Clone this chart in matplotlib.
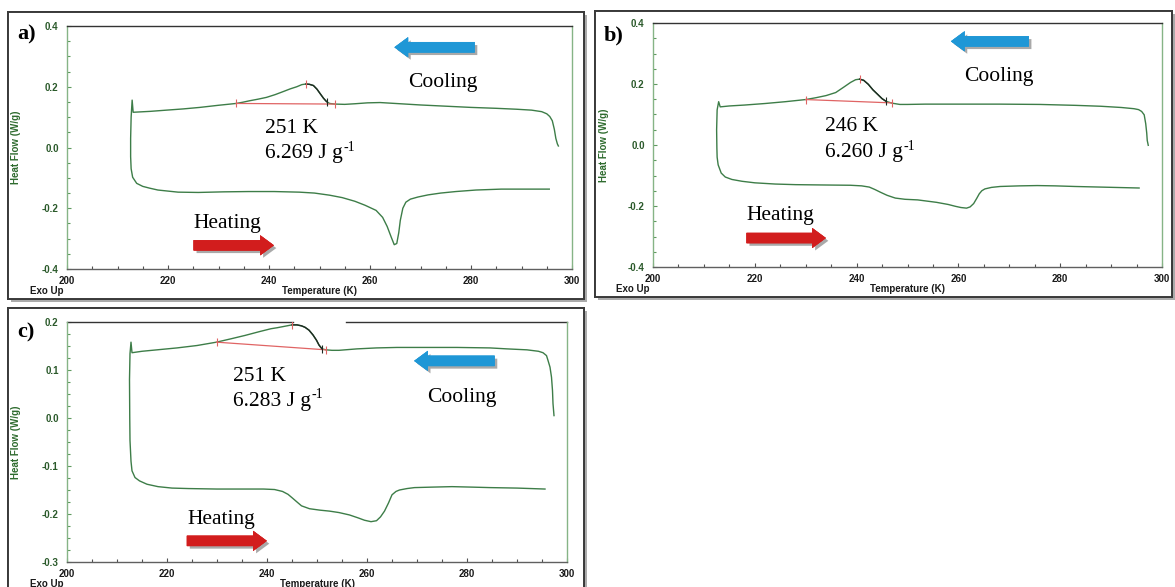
import numpy as np
import matplotlib
matplotlib.use('Agg')
import matplotlib.pyplot as plt
from matplotlib.patches import Rectangle
import matplotlib.patheffects as pe
from matplotlib.ticker import MultipleLocator, FuncFormatter

plt.rcParams['axes.unicode_minus'] = False

# ---------------- data ----------------
# Panel a
a_cool_T = [297.3, 297.1, 296.8, 296.5, 296.1, 295.6, 295.0, 294.0, 292.0, 289.0, 285.0, 280.0,
            275.0, 270.0, 266.0, 262.0, 259.5, 257.0, 255.0, 253.0, 252.0, 251.4, 250.8, 250.1,
            249.5, 248.8, 248.0, 247.3, 246.5, 245.5, 244.2, 242.8, 241.2, 239.5, 237.8, 236.2,
            234.8, 233.5, 230.0, 226.3, 223.0, 219.7, 216.5, 213.1, 212.9, 212.7, 212.6]
a_cool_HF = [0.005, 0.012, 0.030, 0.060, 0.088, 0.102, 0.111, 0.118, 0.123, 0.126, 0.129, 0.132,
             0.136, 0.140, 0.144, 0.148, 0.147, 0.144, 0.142, 0.143, 0.145, 0.151, 0.162, 0.178,
             0.192, 0.204, 0.208, 0.209, 0.207, 0.200, 0.193, 0.184, 0.174, 0.165, 0.159, 0.154,
             0.149, 0.145, 0.139, 0.132, 0.127, 0.123, 0.119, 0.116, 0.156, 0.100, 0.030]
a_heat_T = [212.6, 212.7, 213.0, 213.8, 215.0, 216.4, 218.0, 219.7, 222.0, 226.0, 231.0, 236.0,
            241.0, 246.0, 249.0, 252.0, 254.5, 257.0, 259.0, 261.2, 262.5, 263.4, 264.2, 264.8,
            265.3, 265.7, 266.0, 266.5, 267.1, 268.0, 269.5, 271.5, 274.0, 277.0, 281.0, 286.0,
            291.0, 295.5]
a_heat_HF = [-0.030, -0.070, -0.098, -0.118, -0.128, -0.134, -0.140, -0.143, -0.147, -0.148,
             -0.146, -0.145, -0.145, -0.147, -0.150, -0.157, -0.165, -0.177, -0.190, -0.207,
             -0.230, -0.260, -0.295, -0.320, -0.316, -0.280, -0.240, -0.200, -0.180, -0.170,
             -0.163, -0.156, -0.150, -0.145, -0.140, -0.137, -0.137, -0.137]
a_base_T = [233.5, 253.0]
a_base_HF = [0.145, 0.143]
a_peak = (247.3, 0.209)
a_stop = (251.4, 0.151)
a_onset = '251 K'
a_enthalpy = '6.269'

# Panel b
b_cool_T = [297.3, 297.1, 297.0, 296.8, 296.5, 296.0, 295.4, 294.5, 292.0, 288.0, 283.0, 276.0,
            268.0, 260.0, 253.5, 250.0, 248.5, 247.0, 245.8, 245.0, 244.2, 243.2, 242.3, 241.4,
            240.6, 239.8, 238.8, 237.5, 235.9, 234.0, 232.0, 230.0, 226.0, 222.0, 218.0, 215.0,
            213.2, 212.9, 212.6, 212.5]
b_cool_HF = [-0.001, 0.015, 0.039, 0.070, 0.099, 0.110, 0.116, 0.119, 0.123, 0.127, 0.130, 0.133,
             0.134, 0.134, 0.134, 0.133, 0.133, 0.137, 0.143, 0.152, 0.165, 0.181, 0.199, 0.212,
             0.216, 0.214, 0.205, 0.190, 0.172, 0.162, 0.155, 0.149, 0.142, 0.136, 0.131, 0.128,
             0.125, 0.142, 0.115, 0.050]
b_heat_T = [212.55, 212.6, 212.8, 213.4, 214.2, 215.5, 217.5, 220.0, 224.0, 228.0, 233.0, 238.8,
            241.0, 242.5, 243.6, 244.7, 246.0, 247.6, 249.5, 252.0, 255.7, 258.0, 259.4, 260.5,
            261.6, 262.3, 263.0, 263.6, 264.1, 264.6, 265.2, 266.5, 268.2, 272.0, 275.5, 279.0,
            282.9, 288.0, 295.5]
b_heat_HF = [-0.010, -0.040, -0.065, -0.092, -0.105, -0.113, -0.119, -0.124, -0.128, -0.130,
             -0.131, -0.132, -0.134, -0.138, -0.146, -0.155, -0.165, -0.174, -0.178, -0.180,
             -0.188, -0.195, -0.201, -0.205, -0.207, -0.203, -0.192, -0.175, -0.160, -0.150,
             -0.144, -0.139, -0.136, -0.134, -0.133, -0.134, -0.136, -0.138, -0.141]
b_base_T = [230.0, 247.0]
b_base_HF = [0.149, 0.138]
b_peak = (240.6, 0.216)
b_stop = (245.8, 0.143)
b_onset = '246 K'
b_enthalpy = '6.260'

# Panel c
c_cool_T = [297.4, 297.2, 297.1, 296.9, 296.6, 296.2, 295.9, 295.2, 294.3, 292.0, 288.0, 284.6,
            278.0, 272.0, 266.0, 261.9, 258.0, 254.4, 253.0, 251.8, 251.0, 250.4, 249.9, 249.2,
            248.4, 247.6, 246.9, 246.0, 245.0, 243.5, 242.0, 240.8, 238.5, 235.6, 232.8, 229.9,
            226.0, 222.0, 218.0, 215.0, 213.0, 212.8, 212.6, 212.5]
c_cool_HF = [0.005, 0.030, 0.057, 0.085, 0.106, 0.120, 0.130, 0.136, 0.139, 0.142, 0.144, 0.146,
             0.147, 0.147, 0.147, 0.146, 0.144, 0.141, 0.141, 0.142, 0.144, 0.152, 0.162, 0.173,
             0.183, 0.189, 0.192, 0.194, 0.194, 0.191, 0.188, 0.186, 0.180, 0.172, 0.165, 0.158,
             0.151, 0.146, 0.142, 0.139, 0.136, 0.158, 0.134, 0.080]
c_heat_T = [212.55, 212.6, 212.8, 213.0, 213.6, 214.5, 216.0, 218.2, 221.0, 224.3, 230.0, 235.0,
            239.3, 241.5, 243.1, 244.2, 245.0, 246.0, 246.9, 248.5, 250.6, 252.5, 254.4, 256.5,
            258.2, 259.5, 260.8, 261.9, 262.7, 263.5, 264.3, 265.0, 265.8, 266.5, 268.0, 269.5,
            273.0, 277.0, 281.0, 284.6, 290.0, 295.6]
c_heat_HF = [0.000, -0.047, -0.090, -0.110, -0.124, -0.131, -0.138, -0.143, -0.146, -0.147,
             -0.148, -0.148, -0.148, -0.149, -0.153, -0.159, -0.166, -0.175, -0.183, -0.189,
             -0.192, -0.194, -0.197, -0.202, -0.208, -0.213, -0.216, -0.214, -0.206, -0.194,
             -0.177, -0.160, -0.153, -0.150, -0.147, -0.145, -0.144, -0.143, -0.144, -0.145,
             -0.146, -0.148]
c_base_T = [229.9, 251.8]
c_base_HF = [0.158, 0.142]
c_peak = (245.0, 0.194)
c_stop = (251.0, 0.144)
c_onset = '251 K'
c_enthalpy = '6.283'

# ---------------- figure ----------------
fig = plt.figure(figsize=(11.75, 5.87), dpi=100)

W, H = 1175.0, 587.0

def fx(px):
    return px / W

def fy(py):
    return 1 - py / H

# panel frames (pixel boxes)
frames = [(8, 12, 584, 299), (595, 11, 1172, 297), (8, 308, 584, 600)]
for (x0, y0, x1, y1) in frames:
    r = Rectangle((fx(x0), fy(y1)), fx(x1) - fx(x0), fy(y0) - fy(y1), transform=fig.transFigure,
                  facecolor='white', edgecolor='#3a3a3a', lw=1.4, zorder=-1,
                  path_effects=[pe.withSimplePatchShadow(offset=(2.5, -2.5), shadow_rgbFace='#888888', alpha=0.7),
                                pe.Normal()])
    fig.add_artist(r)

axes_px = [(67, 26, 572, 269), (653, 23, 1162, 267), (67, 322, 567, 562)]

GREEN = '#3d7d48'
SERIF = 'Liberation Serif'
SANS = 'Liberation Sans'

panels = [
    dict(label='a)', cT=a_cool_T, cH=a_cool_HF, hT=a_heat_T, hH=a_heat_HF, bT=a_base_T, bH=a_base_HF,
         peak=a_peak, stop=a_stop, onset=a_onset, dh=a_enthalpy, ylim=(-0.4, 0.4), ymaj=0.2, ymin=0.05,
         txt=(239.2, 0.048, -0.036), cool=(267.5, 0.198), blue=(280.7, 264.9, 0.33),
         heat=(225.1, -0.264), red=(225.1, 240.9, -0.322), lab_px=(17, 39), ylab=-0.091),
    dict(label='b)', cT=b_cool_T, cH=b_cool_HF, hT=b_heat_T, hH=b_heat_HF, bT=b_base_T, bH=b_base_HF,
         peak=b_peak, stop=b_stop, onset=b_onset, dh=b_enthalpy, ylim=(-0.4, 0.4), ymaj=0.2, ymin=0.05,
         txt=(233.8, 0.045, -0.040), cool=(261.1, 0.209), blue=(273.8, 258.6, 0.34),
         heat=(218.4, -0.247), red=(218.4, 233.9, -0.305), lab_px=(604, 40), ylab=-0.087),
    dict(label='c)', cT=c_cool_T, cH=c_cool_HF, hT=c_heat_T, hH=c_heat_HF, bT=c_base_T, bH=c_base_HF,
         peak=c_peak, stop=c_stop, onset=c_onset, dh=c_enthalpy, ylim=(-0.3, 0.2), ymaj=0.1, ymin=0.025,
         txt=(233.2, 0.078, 0.026), cool=(272.1, 0.033), blue=(285.5, 269.5, 0.119),
         heat=(224.0, -0.221), red=(224.0, 239.9, -0.256), lab_px=(17, 337), ylab=-0.092),
]


def draw_arrow(ax, x_tail, x_tip, y, color):
    ax.annotate('', xy=(x_tip, y), xytext=(x_tail, y), xycoords='data',
                arrowprops=dict(arrowstyle='simple,head_length=0.95,head_width=1.4,tail_width=0.72',
                                mutation_scale=10, fc=color, ec=color, lw=0.4,
                                shrinkA=0, shrinkB=0,
                                path_effects=[pe.withSimplePatchShadow(offset=(2, -2), shadow_rgbFace='#555555', alpha=0.5),
                                              pe.Normal()]))


for p, (x0, y0, x1, y1) in zip(panels, axes_px):
    ax = fig.add_axes([fx(x0), fy(y1), fx(x1) - fx(x0), fy(y0) - fy(y1)])
    ax.set_facecolor('none')
    ax.set_xlim(200, 300)
    ax.set_ylim(*p['ylim'])

    # curves
    T = np.concatenate([p['cT'], p['hT']])
    HF = np.concatenate([p['cH'], p['hH']])
    ax.plot(T, HF, color=GREEN, lw=1.0, zorder=3)
    cT = np.asarray(p['cT'])
    cH = np.asarray(p['cH'])
    m = (cT >= p['peak'][0]) & (cT <= p['stop'][0])
    ax.plot(cT[m], cH[m], color='#1e2a22', lw=1.0, zorder=4)
    ax.plot(p['bT'], p['bH'], color='#e06464', lw=0.9, zorder=3)
    ax.plot(p['bT'], p['bH'], ls='none', marker='|', ms=6, mew=0.8, color='#e06464', zorder=5)
    ax.plot([p['peak'][0]], [p['peak'][1]], ls='none', marker='|', ms=6, mew=0.8, color='#e06464', zorder=5)
    ax.plot([p['stop'][0]], [p['stop'][1]], ls='none', marker='|', ms=6, mew=0.8, color='#1e2a22', zorder=5)

    # axes styling
    for s in ['left', 'right']:
        ax.spines[s].set_color('#86b486')
        ax.spines[s].set_linewidth(1.0)
    ax.spines['bottom'].set_color('#606060')
    ax.spines['bottom'].set_linewidth(1.0)
    ax.spines['top'].set_color('#333333')
    ax.spines['top'].set_linewidth(1.0)
    if p['label'] == 'c)':
        ax.spines['top'].set_visible(False)
        ax.plot([0, 0.452], [1, 1], transform=ax.transAxes, color='#333333', lw=1.0, clip_on=False)
        ax.plot([0.558, 1], [1, 1], transform=ax.transAxes, color='#333333', lw=1.0, clip_on=False)

    ax.xaxis.set_major_locator(MultipleLocator(20))
    ax.xaxis.set_minor_locator(MultipleLocator(5))
    ax.yaxis.set_major_locator(MultipleLocator(p['ymaj']))
    ax.yaxis.set_minor_locator(MultipleLocator(p['ymin']))
    ax.xaxis.set_major_formatter(FuncFormatter(lambda v, pos: f'{v:.0f}'))
    ax.yaxis.set_major_formatter(FuncFormatter(lambda v, pos: f'{v:.1f}'))
    ax.tick_params(axis='x', which='both', direction='in', top=False, color='#505050', width=0.8,
                   labelsize=7, labelcolor='#1a1a1a', pad=5)
    ax.tick_params(axis='x', which='major', length=3)
    ax.tick_params(axis='x', which='minor', length=2)
    ax.tick_params(axis='y', which='both', direction='in', right=False, color='#5f9a5f', width=0.8,
                   labelsize=7, labelcolor='#2b5a2b', pad=6)
    ax.tick_params(axis='y', which='major', length=3)
    ax.tick_params(axis='y', which='minor', length=2)
    for lab in ax.get_xticklabels() + ax.get_yticklabels():
        lab.set_fontfamily(SANS)
        lab.set_fontweight('bold')

    ax.set_ylabel('Heat Flow (W/g)', fontsize=7, color='#2e6b2e', family=SANS, fontweight='bold')
    ax.yaxis.set_label_coords(p['ylab'], 0.5)
    ax.text(0.5, -0.09, 'Temperature (K)', transform=ax.transAxes, ha='center', va='center',
            fontsize=7, family=SANS, fontweight='bold', color='#1a1a1a')
    ax.text(-0.04, -0.09, 'Exo Up', transform=ax.transAxes, ha='center', va='center',
            fontsize=7, family=SANS, fontweight='bold', color='#1a1a1a')

    # annotations
    tx, ty1, ty2 = p['txt']
    ax.text(tx, ty1, p['onset'], fontsize=15.5, family=SERIF, ha='left', va='baseline', color='black', zorder=6)
    main = ax.text(tx, ty2, p['dh'] + ' J g', fontsize=15.5, family=SERIF, ha='left',
                   va='baseline', color='black', zorder=6)
    ax.annotate('-1', xy=(1, 1), xycoords=main, xytext=(0.3, 2.5), textcoords='offset points',
                fontsize=10, family=SERIF, ha='left', va='top', color='black', zorder=6)
    ax.text(p['cool'][0], p['cool'][1], 'Cooling', fontsize=15.5, family=SERIF, ha='left',
            va='baseline', color='black', zorder=6)
    ax.text(p['heat'][0], p['heat'][1], 'Heating', fontsize=15.5, family=SERIF, ha='left',
            va='baseline', color='black', zorder=6)
    draw_arrow(ax, p['blue'][0], p['blue'][1], p['blue'][2], '#1f97d6')
    draw_arrow(ax, p['red'][0], p['red'][1], p['red'][2], '#d21d1d')

    fig.text(fx(p['lab_px'][0]), fy(p['lab_px'][1]), p['label'], fontsize=16, family=SERIF,
             fontweight='bold', ha='left', va='baseline')

fig.savefig('out.png', dpi=100)
